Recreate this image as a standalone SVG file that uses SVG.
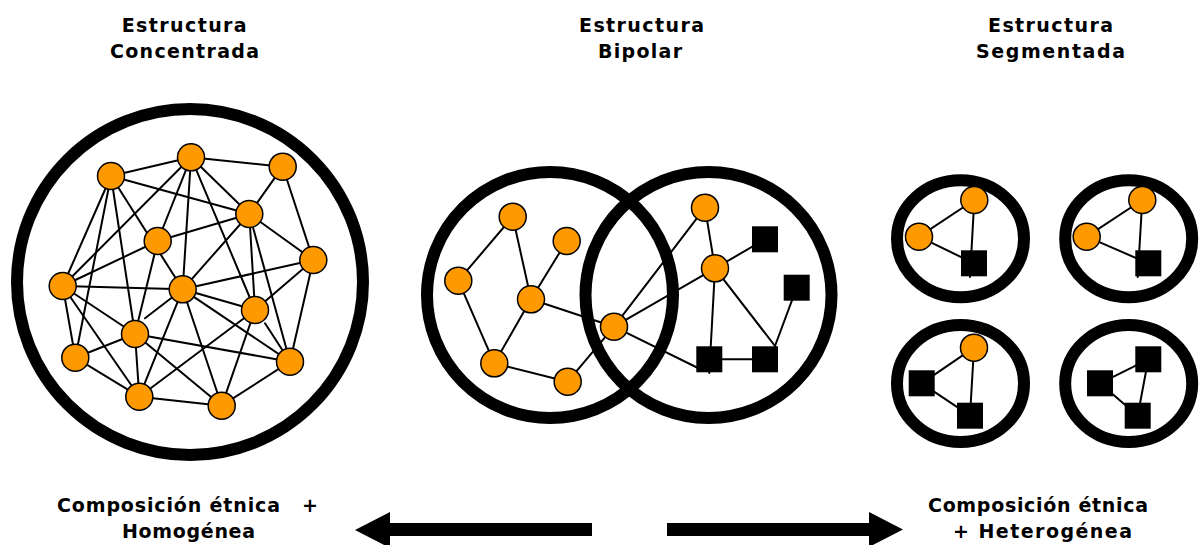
<svg xmlns="http://www.w3.org/2000/svg" width="1199" height="545" viewBox="0 0 1199 545">
<style>
  .t { font-family: "DejaVu Sans", Verdana, sans-serif; font-weight: bold; font-size: 19px; fill: #000; }
  .e { stroke: #000; stroke-width: 2; fill: none; stroke-linecap: round; }
  .ring { fill: none; stroke: #000; stroke-width: 12; }
  .o { fill: #FF9900; stroke: #000; stroke-width: 1.5; }
  .s { fill: #000; }
</style>
<defs>
  <circle id="on" r="13.5" class="o"/>
  <rect id="sq" x="-13" y="-13" width="26" height="26" class="s"/>
</defs>
<rect width="1199" height="545" fill="#fff"/>

<g id="titles">
  <text class="t" x="121.7" y="31.7" textLength="125" lengthAdjust="spacing">Estructura</text>
  <text class="t" x="110" y="58.3" textLength="149" lengthAdjust="spacing">Concentrada</text>
  <text class="t" x="579" y="31.7" textLength="125" lengthAdjust="spacing">Estructura</text>
  <text class="t" x="598" y="58.3" textLength="84" lengthAdjust="spacing">Bipolar</text>
  <text class="t" x="988" y="31.7" textLength="125" lengthAdjust="spacing">Estructura</text>
  <text class="t" x="976" y="58.3" textLength="149" lengthAdjust="spacing">Segmentada</text>
</g>

<g id="connectors">
  <!-- concentrated -->
  <line class="e" x1="111" y1="176" x2="191" y2="157.3"/>
  <line class="e" x1="191" y1="157.3" x2="282.7" y2="166.7"/>
  <line class="e" x1="111" y1="176" x2="249.3" y2="214"/>
  <line class="e" x1="111" y1="176" x2="62.7" y2="286"/>
  <line class="e" x1="111" y1="176" x2="75.3" y2="357.7"/>
  <line class="e" x1="111" y1="176" x2="135" y2="334"/>
  <line class="e" x1="111" y1="176" x2="182.7" y2="289.3"/>
  <line class="e" x1="191" y1="157.3" x2="62.7" y2="286"/>
  <line class="e" x1="191" y1="157.3" x2="157.7" y2="241"/>
  <line class="e" x1="191" y1="157.3" x2="182.7" y2="289.3"/>
  <line class="e" x1="191" y1="157.3" x2="249.3" y2="214"/>
  <line class="e" x1="191" y1="157.3" x2="255" y2="310"/>
  <line class="e" x1="282.7" y1="166.7" x2="249.3" y2="214"/>
  <line class="e" x1="282.7" y1="166.7" x2="313.3" y2="260"/>
  <line class="e" x1="249.3" y1="214" x2="157.7" y2="241"/>
  <line class="e" x1="249.3" y1="214" x2="182.7" y2="289.3"/>
  <line class="e" x1="249.3" y1="214" x2="255" y2="310"/>
  <line class="e" x1="249.3" y1="214" x2="313.3" y2="260"/>
  <line class="e" x1="249.3" y1="214" x2="290" y2="361.7"/>
  <line class="e" x1="157.7" y1="241" x2="62.7" y2="286"/>
  <line class="e" x1="157.7" y1="241" x2="135" y2="334"/>
  <line class="e" x1="62.7" y1="286" x2="182.7" y2="289.3"/>
  <line class="e" x1="62.7" y1="286" x2="75.3" y2="357.7"/>
  <line class="e" x1="62.7" y1="286" x2="135" y2="334"/>
  <line class="e" x1="62.7" y1="286" x2="139.3" y2="396.7"/>
  <line class="e" x1="182.7" y1="289.3" x2="313.3" y2="260"/>
  <line class="e" x1="182.7" y1="289.3" x2="255" y2="310"/>
  <line class="e" x1="182.7" y1="289.3" x2="139.3" y2="396.7"/>
  <line class="e" x1="182.7" y1="289.3" x2="221.7" y2="405.7"/>
  <line class="e" x1="182.7" y1="289.3" x2="290" y2="361.7"/>
  <line class="e" x1="182.7" y1="289.3" x2="145" y2="318.3"/>
  <line class="e" x1="255" y1="310" x2="313.3" y2="260"/>
  <line class="e" x1="255" y1="310" x2="139.3" y2="396.7"/>
  <line class="e" x1="255" y1="310" x2="221.7" y2="405.7"/>
  <line class="e" x1="265" y1="323.3" x2="290" y2="361.7"/>
  <line class="e" x1="313.3" y1="260" x2="290" y2="361.7"/>
  <line class="e" x1="135" y1="334" x2="75.3" y2="357.7"/>
  <line class="e" x1="135" y1="334" x2="290" y2="361.7"/>
  <line class="e" x1="135" y1="334" x2="139.3" y2="396.7"/>
  <line class="e" x1="135" y1="334" x2="221.7" y2="405.7"/>
  <line class="e" x1="75.3" y1="357.7" x2="139.3" y2="396.7"/>
  <line class="e" x1="139.3" y1="396.7" x2="221.7" y2="405.7"/>
  <line class="e" x1="221.7" y1="405.7" x2="290" y2="361.7"/>
  <!-- bipolar -->
  <line class="e" x1="458.3" y1="280.7" x2="512.7" y2="216.7"/>
  <line class="e" x1="512.7" y1="216.7" x2="531" y2="299.3"/>
  <line class="e" x1="566.7" y1="241" x2="531" y2="299.3"/>
  <line class="e" x1="458.3" y1="280.7" x2="494.3" y2="363.3"/>
  <line class="e" x1="531" y1="299.3" x2="494.3" y2="363.3"/>
  <line class="e" x1="494.3" y1="363.3" x2="567.7" y2="381.7"/>
  <line class="e" x1="567.7" y1="381.7" x2="614" y2="326.7"/>
  <line class="e" x1="531" y1="299.3" x2="614" y2="326.7"/>
  <line class="e" x1="614" y1="326.7" x2="705" y2="207.7"/>
  <line class="e" x1="614" y1="326.7" x2="715" y2="268.3"/>
  <line class="e" x1="614" y1="326.7" x2="700" y2="369"/>
  <line class="e" x1="705" y1="207.7" x2="715" y2="268.3"/>
  <line class="e" x1="715" y1="268.3" x2="765" y2="239.3"/>
  <line class="e" x1="715" y1="268.3" x2="709.3" y2="373"/>
  <line class="e" x1="715" y1="268.3" x2="775" y2="346"/>
  <line class="e" x1="709.3" y1="359.3" x2="765" y2="359.3"/>
  <line class="e" x1="796.7" y1="287.7" x2="775" y2="346"/>
  <!-- segmented -->
  <line class="e" x1="974.3" y1="200" x2="919" y2="236.7"/>
  <line class="e" x1="919" y1="236.7" x2="974" y2="263.3"/>
  <line class="e" x1="974.3" y1="200" x2="970" y2="277"/>
  <line class="e" x1="1142.3" y1="200" x2="1086.7" y2="236.7"/>
  <line class="e" x1="1086.7" y1="236.7" x2="1148.3" y2="263.3"/>
  <line class="e" x1="1142.3" y1="200" x2="1137.7" y2="277"/>
  <line class="e" x1="974" y1="347.7" x2="921.7" y2="383.3"/>
  <line class="e" x1="921.7" y1="383.3" x2="970" y2="415.7"/>
  <line class="e" x1="974" y1="347.7" x2="970" y2="415.7"/>
  <line class="e" x1="1148.3" y1="359.3" x2="1100" y2="383.3"/>
  <line class="e" x1="1100" y1="383.3" x2="1137.7" y2="415.7"/>
  <line class="e" x1="1148.3" y1="359.3" x2="1137.7" y2="415.7"/>
</g>

<g id="ring-concentrada"><circle class="ring" cx="190" cy="282" r="173"/></g>
<g id="ring-bipolar-a"><circle class="ring" cx="550" cy="295" r="123"/></g>
<g id="ring-bipolar-b"><circle class="ring" cx="708.5" cy="295" r="123"/></g>
<g id="ring-seg-1"><ellipse class="ring" cx="960.5" cy="238.7" rx="63.5" ry="58.5"/></g>
<g id="ring-seg-2"><ellipse class="ring" cx="1128.7" cy="238.7" rx="63.5" ry="58.5"/></g>
<g id="ring-seg-3"><ellipse class="ring" cx="960.5" cy="383.5" rx="63.5" ry="58.5"/></g>
<g id="ring-seg-4"><ellipse class="ring" cx="1128.7" cy="383.5" rx="63.5" ry="58.5"/></g>

<g id="c1"><use href="#on" x="111" y="176"/></g>
<g id="c2"><use href="#on" x="191" y="157.3"/></g>
<g id="c3"><use href="#on" x="282.7" y="166.7"/></g>
<g id="c4"><use href="#on" x="249.3" y="214"/></g>
<g id="c5"><use href="#on" x="157.7" y="241"/></g>
<g id="c6"><use href="#on" x="313.3" y="260"/></g>
<g id="c7"><use href="#on" x="62.7" y="286"/></g>
<g id="c8"><use href="#on" x="182.7" y="289.3"/></g>
<g id="c9"><use href="#on" x="255" y="310"/></g>
<g id="c10"><use href="#on" x="135" y="334"/></g>
<g id="c11"><use href="#on" x="75.3" y="357.7"/></g>
<g id="c12"><use href="#on" x="290" y="361.7"/></g>
<g id="c13"><use href="#on" x="139.3" y="396.7"/></g>
<g id="c14"><use href="#on" x="221.7" y="405.7"/></g>

<g id="b1"><use href="#on" x="512.7" y="216.7"/></g>
<g id="b2"><use href="#on" x="566.7" y="241"/></g>
<g id="b3"><use href="#on" x="458.3" y="280.7"/></g>
<g id="b4"><use href="#on" x="531" y="299.3"/></g>
<g id="b5"><use href="#on" x="494.3" y="363.3"/></g>
<g id="b6"><use href="#on" x="567.7" y="381.7"/></g>
<g id="b7"><use href="#on" x="614" y="326.7"/></g>
<g id="b8"><use href="#on" x="705" y="207.7"/></g>
<g id="b9"><use href="#on" x="715" y="268.3"/></g>
<g id="b10"><use href="#sq" x="765" y="239.3"/></g>
<g id="b11"><use href="#sq" x="796.7" y="287.7"/></g>
<g id="b12"><use href="#sq" x="709.3" y="359.3"/></g>
<g id="b13"><use href="#sq" x="765" y="359.3"/></g>

<g id="s1a"><use href="#on" x="974.3" y="200"/></g>
<g id="s1b"><use href="#on" x="919" y="236.7"/></g>
<g id="s1c"><use href="#sq" x="974" y="263.3"/></g>
<g id="s2a"><use href="#on" x="1142.3" y="200"/></g>
<g id="s2b"><use href="#on" x="1086.7" y="236.7"/></g>
<g id="s2c"><use href="#sq" x="1148.3" y="263.3"/></g>
<g id="s3a"><use href="#on" x="974" y="347.7"/></g>
<g id="s3b"><use href="#sq" x="921.7" y="383.3"/></g>
<g id="s3c"><use href="#sq" x="970" y="415.7"/></g>
<g id="s4a"><use href="#sq" x="1148.3" y="359.3"/></g>
<g id="s4b"><use href="#sq" x="1100" y="383.3"/></g>
<g id="s4c"><use href="#sq" x="1137.7" y="415.7"/></g>

<g id="arrow-left"><polygon points="355,530 390,512 390,523 592,523 592,536 390,536 390,548" fill="#000"/></g>
<g id="arrow-right"><polygon points="903,529.5 869,512 869,523 667,523 667,536 869,536 869,547" fill="#000"/></g>

<g id="labels">
  <text class="t"><tspan x="57" y="511.7" textLength="223" lengthAdjust="spacing">Composición étnica</tspan><tspan x="302" y="511.7">+</tspan></text>
  <text class="t" x="122" y="538.3" textLength="133" lengthAdjust="spacing">Homogénea</text>
  <text class="t" x="928" y="511.7" textLength="220" lengthAdjust="spacing">Composición étnica</text>
  <text class="t" x="953" y="538.3" textLength="179" lengthAdjust="spacing">+ Heterogénea</text>
</g>
</svg>
